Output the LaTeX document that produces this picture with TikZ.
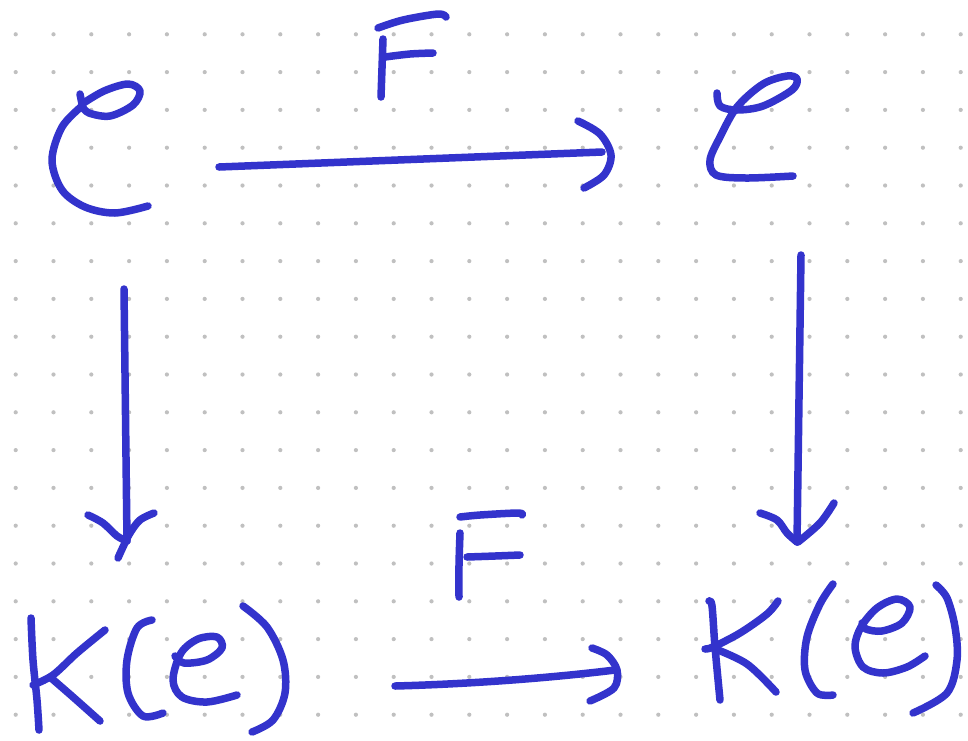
\documentclass[tikz,border=0pt]{standalone}
\usetikzlibrary{calc}
\definecolor{ink}{RGB}{51,51,204}
\definecolor{griddot}{RGB}{192,192,192}
\tikzset{
  pen/.style={draw=ink, line width=7.5pt, line cap=round, line join=round},
  stroke/.style={pen, smooth, tension=0.55},
}
\begin{document}
\begin{tikzpicture}[x=1pt, y=-1pt]
  % page and dotted paper
  \fill[white] (0,0) rectangle (968,740);
  \useasboundingbox (0,0) rectangle (968,740);
  \foreach \i in {0,...,25}
    \foreach \j in {0,...,18}
      \fill[griddot] ({15.7+37.8*\i},{34.3+37.8*\j}) circle (2.1pt);

  % ---- top-left object: script C ----
  \draw[stroke] plot coordinates {(80,94) (82,104)};
  \draw[stroke] plot coordinates {(82,104) (104,91) (128,84) (140,91) (133,105) (110,116) (89,113) (82,106)};
  \draw[stroke] plot coordinates {(82,106) (62,127) (52,160) (62,190) (85,207) (115,213) (148,206)};

  % ---- top-right object: script e ----
  \draw[stroke] plot coordinates {(717,93) (720,106) (737,110) (763,106) (792,90) (797,79) (787,76) (763,84) (737,107) (720,137) (710,160) (716,175) (746,178) (793,176)};

  % ---- top label F ----
  \draw[stroke] plot coordinates {(378,28) (403,20) (438,14) (446,17)};
  \draw[stroke] plot coordinates {(383,39) (382,68) (381,97)};
  \draw[stroke] plot coordinates {(385,57) (410,54) (433,53)};

  % ---- top arrow ----
  \coordinate (tA) at (219,167);
  \coordinate (tB) at (602,152);
  \draw[pen] (tA) -- (tB);
  \draw[stroke] plot coordinates {(578,121) (600,134) (611,155) (604,175) (584,188)};

  % ---- left vertical arrow ----
  \coordinate (lA) at (124,289);
  \coordinate (lB) at (127,541);
  \draw[pen] (lA) -- (lB);
  \draw[stroke] plot coordinates {(88,515) (103,523) (117,536) (127,541)};
  \draw[stroke] plot coordinates {(154,513) (140,520) (130,533) (123,547) (118,558)};

  % ---- right vertical arrow ----
  \coordinate (rA) at (801,255);
  \coordinate (rB) at (797,542);
  \draw[pen] (rA) -- (rB);
  \draw[stroke] plot coordinates {(760,513) (777,520) (787,533) (797,542)};
  \draw[stroke] plot coordinates {(834,503) (820,523) (798,542)};

  % ---- bottom label F ----
  \draw[stroke] plot coordinates {(460,517) (480,515) (518,513) (522,515)};
  \draw[stroke] plot coordinates {(460,533) (459,565) (459,597)};
  \draw[stroke] plot coordinates {(467,557) (495,556) (520,555)};

  % ---- bottom arrow ----
  \coordinate (bA) at (395,686);
  \coordinate (bB) at (615,670);
  \draw[pen] (bA) .. controls (470,684) and (550,678) .. (bB);
  \draw[stroke] plot coordinates {(592,648) (607,655) (617,670) (614,688) (590,701)};

  % ---- bottom-left object: K(e) ----
  \draw[stroke] plot coordinates {(31,618) (33,660) (37,700) (39,730)};
  \draw[stroke] plot coordinates {(105,630) (77,653) (53,675) (33,685)};
  \draw[stroke] plot coordinates {(50,677) (73,697) (100,721)};
  \draw[stroke] plot coordinates {(152,620) (137,628) (127,660) (128,693) (143,716) (163,713)};
  \draw[stroke] plot coordinates {(175,656) (184,663) (207,660) (222,648) (217,637) (198,639) (181,653) (173,680) (182,697) (207,702) (237,695)};
  \draw[stroke] plot coordinates {(243,606) (267,627) (283,660) (285,693) (273,720) (252,732)};

  % ---- bottom-right object: K(e) ----
  \draw[stroke] plot coordinates {(709,601) (712,606) (715,647) (720,700)};
  \draw[stroke] plot coordinates {(778,601) (767,614) (740,633) (713,647) (705,649)};
  \draw[stroke] plot coordinates {(713,648) (747,664) (776,692)};
  \draw[stroke] plot coordinates {(833,584) (820,604) (807,637) (805,670) (817,693) (833,695)};
  \draw[stroke] plot coordinates {(862,623) (866,629) (882,631) (902,623) (910,607) (897,599) (877,608) (861,627) (855,647) (863,667) (883,673) (907,667) (925,656)};
  \draw[stroke] plot coordinates {(936,585) (947,598) (955,627) (957,660) (947,693) (913,713)};
\end{tikzpicture}
\end{document}
